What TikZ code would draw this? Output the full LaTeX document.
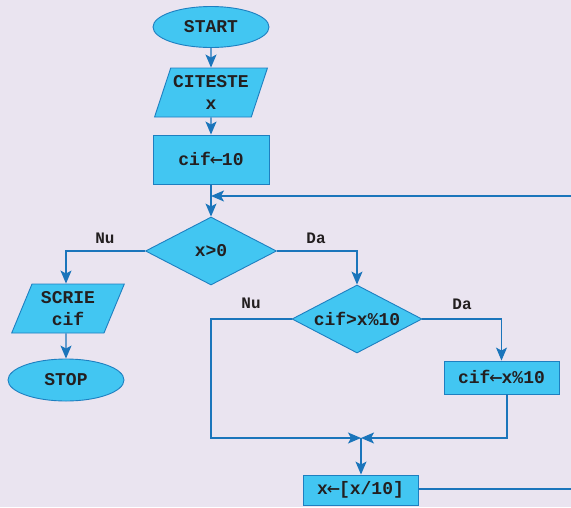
\documentclass[tikz,border=0pt]{standalone}
\usepackage{fontspec}
\setmonofont{Liberation Mono}
\newfontfamily\arrowfont{DejaVu Sans Mono}
\newcommand{\larr}{\makebox[0.62em]{\raisebox{-0.04em}{\arrowfont\mdseries\fontsize{22}{22}\selectfont ←}}}
\usetikzlibrary{shapes.geometric,arrows.meta,calc}
\definecolor{bgc}{HTML}{EAE4F0}
\definecolor{boxfill}{HTML}{42C6F2}
\definecolor{boxline}{HTML}{1E7FC0}
\definecolor{flow}{HTML}{1B75BB}
\definecolor{ink}{HTML}{231F20}
\tikzset{
  base/.style={draw=boxline, fill=boxfill, line width=0.9pt, text=ink,
    font=\ttfamily\bfseries\fontsize{18}{22}\selectfont, inner sep=0pt, align=center},
  termbox/.style={base, ellipse, minimum width=116pt, minimum height=41pt},
  iobox/.style={base, trapezium, trapezium stretches=true,
    trapezium left angle=66, trapezium right angle=114,
    minimum width=113pt, minimum height=49pt},
  procbox/.style={base, rectangle},
  decbox/.style={base, diamond, aspect=1.92, minimum width=131pt, minimum height=68pt},
  flowline/.style={draw=flow, line width=1.2pt,
    -{Stealth[length=13pt,width=11pt,inset=3pt]}},
  plainline/.style={draw=flow, line width=1.2pt},
  lbl/.style={text=ink, font=\ttfamily\bfseries\fontsize{16}{18}\selectfont, inner sep=0pt}
}
\begin{document}
\begin{tikzpicture}[x=1pt,y=1pt]
\fill[bgc] (0,0) rectangle (571,-507);
\useasboundingbox (0,0) rectangle (571,-507);

\node[termbox] (start) at (211,-27) {START};
\node[iobox] (read) at (211,-92.5) {CITESTE\\x};
\node[procbox, minimum width=116pt, minimum height=49pt] (init) at (211,-159.5) {cif\larr10};
\node[decbox] (d1) at (211,-251) {x>0};
\node[iobox] (write) at (68,-308.5) {SCRIE\\cif};
\node[termbox, minimum height=42pt] (stop) at (66,-380) {STOP};
\node[decbox, minimum width=130pt] (d2) at (357,-319) {cif>x\%10};
\node[procbox, minimum width=115pt, minimum height=33pt] (upd) at (501.5,-377.5) {cif\larr x\%10};
\node[procbox, minimum width=115pt, minimum height=30pt] (div) at (360.5,-490) {x\larr[x/10]};

\node[lbl] (nu1) at (105,-238) {Nu};
\node[lbl] (da1) at (316,-238) {Da};
\node[lbl] (nu2) at (251,-303) {Nu};
\node[lbl] (da2) at (462,-304) {Da};

\coordinate (loopin) at (571,-196);
\coordinate (loopjoin) at (211,-196);
\coordinate (loopout) at (571,-489);
\coordinate (join) at (361,-438);
\coordinate (nucorner) at (211,-438);
\coordinate (updout) at (507,-394);

\draw[flowline] (start) -- (read);
\draw[flowline] (read) -- (init);
\draw[flowline] (init) -- (d1);
\draw[flowline] (loopin) -- (loopjoin);
\draw[flowline] (d1.west) -| ([xshift=-2pt]write.north);
\draw[flowline] ([xshift=-2pt]write.south) -- (stop.north);
\draw[flowline] (d1.east) -| (d2.north);
\draw[flowline] (d2.east) -| (upd.north);
\draw[flowline] (d2.west) -| (nucorner) -- (join);
\draw[flowline] (updout) |- (join);
\draw[flowline] (join) -- (join |- div.north);
\draw[plainline] (div.east |- loopout) -- (loopout);
\end{tikzpicture}
\end{document}
